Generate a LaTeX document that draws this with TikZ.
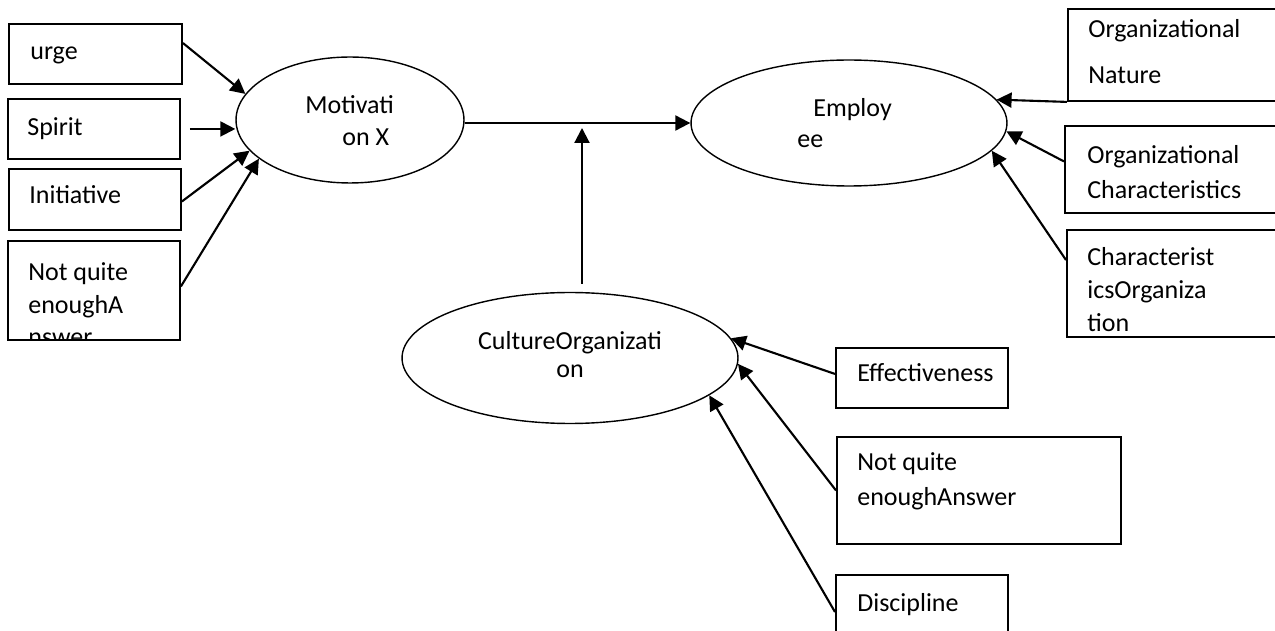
\documentclass[tikz,border=0pt]{standalone}
\usepackage{fontspec}
\setmainfont{Carlito}
\usetikzlibrary{arrows.meta,shapes.geometric,calc}

\begin{document}
\begin{tikzpicture}[x=0.02cm, y=-0.02cm,
    box/.style={draw, line width=1.1pt, rectangle, anchor=north west, inner sep=0pt},
    oval/.style={draw, line width=0.8pt, ellipse, inner sep=0pt},
    lbl/.style={font=\fontsize{14.8}{#1}\selectfont, align=left, inner sep=0pt, anchor=base west},
    lbl/.default=18.7,
    arr/.style={line width=1.2pt, -{Triangle[length=0.3cm, width=0.3cm]}}]
  \clip (0,0) rectangle (1275,631);
  % ovals
  \node[oval, minimum width=4.56cm, minimum height=2.52cm] (mot) at (350,120) {};
  \node[oval, minimum width=6.32cm, minimum height=2.52cm] (emp) at (849,123) {};
  \node[oval, minimum width=6.72cm, minimum height=2.62cm] (cul) at (570,358) {};
  \node[lbl] (mot-t) at (305,146) {Motivati\\\hspace*{0.74cm}on X};
  \node[lbl=18.1] (emp-t) at (797,148) {\hspace*{0.32cm}Employ\\ee};
  \node[lbl=16.4, align=center, anchor=base] (cul-t) at (570,378) {CultureOrganizati\\on};
  % left boxes
  \node[box, minimum width=3.46cm, minimum height=1.2cm] (urge) at (8,23) {};
  \node[box, minimum width=3.44cm, minimum height=1.2cm] (spirit) at (7,98) {};
  \node[box, minimum width=3.44cm, minimum height=1.22cm] (init) at (8,168) {};
  \node[box, minimum width=3.44cm, minimum height=1.98cm] (nq) at (7,240) {};
  \node[lbl] (urge-t) at (30,60) {urge};
  \node[lbl] (spirit-t) at (27,136) {Spirit};
  \node[lbl] (init-t) at (29,204) {Initiative};
  \begin{scope}
    \clip (nq.north west) rectangle (nq.south east);
    \node[lbl] (nq-t) at (28,346) {Not quite\\enoughA\\nswer};
  \end{scope}
  % right boxes
  \node[box, minimum width=4.6cm, minimum height=1.84cm] (onat) at (1067,8) {};
  \node[box, minimum width=4.6cm, minimum height=1.74cm] (ochar) at (1064,125) {};
  \node[box, minimum width=4.6cm, minimum height=2.14cm] (corg) at (1066,229) {};
  \node[lbl=26.6] (onat-t) at (1088,84) {Organizational\\Nature};
  \node[lbl=20.4] (ochar-t) at (1087,199) {Organizational\\Characteristics};
  \node[lbl=19] (corg-t) at (1087,332) {Characterist\\icsOrganiza\\tion};
  % bottom boxes
  \node[box, minimum width=3.44cm, minimum height=1.2cm] (eff) at (835,347) {};
  \node[box, minimum width=5.68cm, minimum height=2.14cm] (nq2) at (836,436) {};
  \node[box, minimum width=3.44cm, minimum height=1.8cm] (disc) at (835,574) {};
  \node[lbl] (eff-t) at (857,382) {Effectiveness};
  \node[lbl=19.8] (nq2-t) at (857,505) {Not quite\\enoughAnswer};
  \node[lbl] (disc-t) at (857,611) {Discipline};
  % arrows
  \draw[arr] ($(urge.north east)+(0,20)$) -- (mot.166);
  \draw[arr, shorten <=0.18cm] (spirit.east) -- (spirit.east -| mot.west);
  \draw[arr] ($(init.east)+(0,2)$) -- (mot.197);
  \draw[arr] ($(nq.east)+(0,-4)$) -- (mot.203);
  \draw[arr] (mot.east |- emp.west) -- (emp.west);
  \coordinate (join) at (582,124);
  \draw[arr, shorten <=0.16cm, shorten >=0.08cm] (cul.north -| join) -- (join);
  \draw[arr] (onat.south west) -- (emp.9);
  \draw[arr] ($(ochar.west)+(0,-8)$) -- (emp.-3);
  \draw[arr] ($(corg.north west)+(0,31)$) -- (emp.-11);
  \draw[arr] ($(eff.west)+(0,-4)$) -- (cul.7);
  \draw[arr] (nq2.west) -- (cul.-2);
  \draw[arr] ($(disc.north west)+(0,38)$) -- (cul.-15);
\end{tikzpicture}
\end{document}
